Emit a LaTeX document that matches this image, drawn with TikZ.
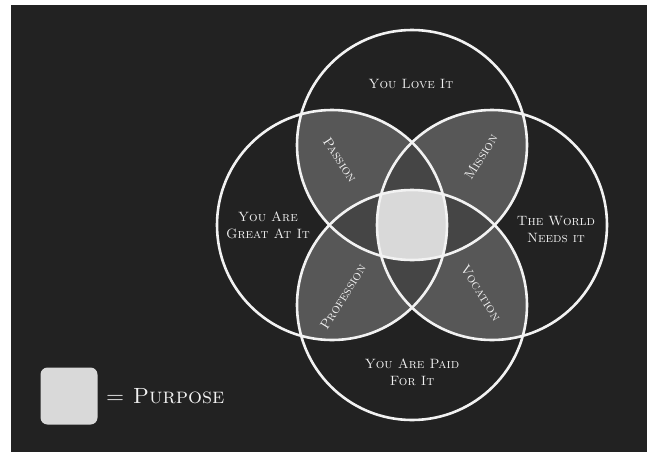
\documentclass[tikz,border=0pt]{standalone}
\usepackage{fontspec}
\usetikzlibrary{positioning}

\definecolor{board}{HTML}{222222}
\definecolor{chalk}{HTML}{F2F2F2}
\definecolor{lensgray}{HTML}{575757}
\definecolor{triplegray}{HTML}{454545}
\definecolor{coregray}{HTML}{D9D9D9}

\newcommand{\ringR}{115pt}

\begin{document}
\begin{tikzpicture}[x=1pt, y=-1pt,
        ring/.style={draw=chalk, line width=2.6pt},
        lens/.style={fill=lensgray},
        triple/.style={fill=triplegray},
        core/.style={fill=coregray},
        lbl/.style={text=chalk, font=\fontsize{13.5}{17}\selectfont\scshape, align=center, inner sep=1pt},
        swatch/.style={fill=coregray, rounded corners=7pt, minimum size=57pt, inner sep=0pt}
    ]
        % --- board and margins ---
        \fill[white] (0,0) rectangle (647,453);
        \fill[board] (11,5) rectangle (647,452);
        \useasboundingbox (0,0) rectangle (647,453);

        % --- circle centres ---
        \coordinate (love) at (412,145);
        \coordinate (great) at (332,225);
        \coordinate (world) at (492,225);
        \coordinate (paid) at (412,305);

        % --- two-circle lenses ---
        \foreach \a/\b in {love/great, love/world, great/paid, world/paid}{
            \begin{scope}
                \clip (\a) circle (\ringR);
                \path[lens] (\b) circle (\ringR);
            \end{scope}
        }

        % --- three-circle regions ---
        \begin{scope}
            \clip (great) circle (\ringR);
            \path[triple] (world) circle (\ringR);
        \end{scope}
        \begin{scope}
            \clip (love) circle (\ringR);
            \path[triple] (paid) circle (\ringR);
        \end{scope}

        % --- all four: purpose ---
        \begin{scope}
            \clip (love) circle (\ringR);
            \clip (great) circle (\ringR);
            \clip (world) circle (\ringR);
            \path[core] (paid) circle (\ringR);
        \end{scope}

        % --- rings ---
        \foreach \c in {love, great, world, paid}
            \draw[ring] (\c) circle (\ringR);

        % --- circle labels ---
        \node[lbl] (lovetxt) at (411,84) {You Love It};
        \node[lbl] (greattxt) at (268,225) {You Are\\Great At It};
        \node[lbl] (worldtxt) at (556,229) {The World\\Needs it};
        \node[lbl] (paidtxt) at (412,372) {You Are Paid\\For It};

        % --- overlap labels ---
        \node[lbl, rotate=-57] (passion) at (340,160) {Passion};
        \node[lbl, rotate=58] (mission) at (481,157) {Mission};
        \node[lbl, rotate=58] (profession) at (343,297) {Profession};
        \node[lbl, rotate=-58] (vocation) at (481,293) {Vocation};

        % --- legend ---
        \node[swatch] (key) at (69,396) {};
        \node[lbl, font=\fontsize{22}{24}\selectfont\scshape, right=7pt of key] (purpose) {= Purpose};
    \end{tikzpicture}
\end{document}
